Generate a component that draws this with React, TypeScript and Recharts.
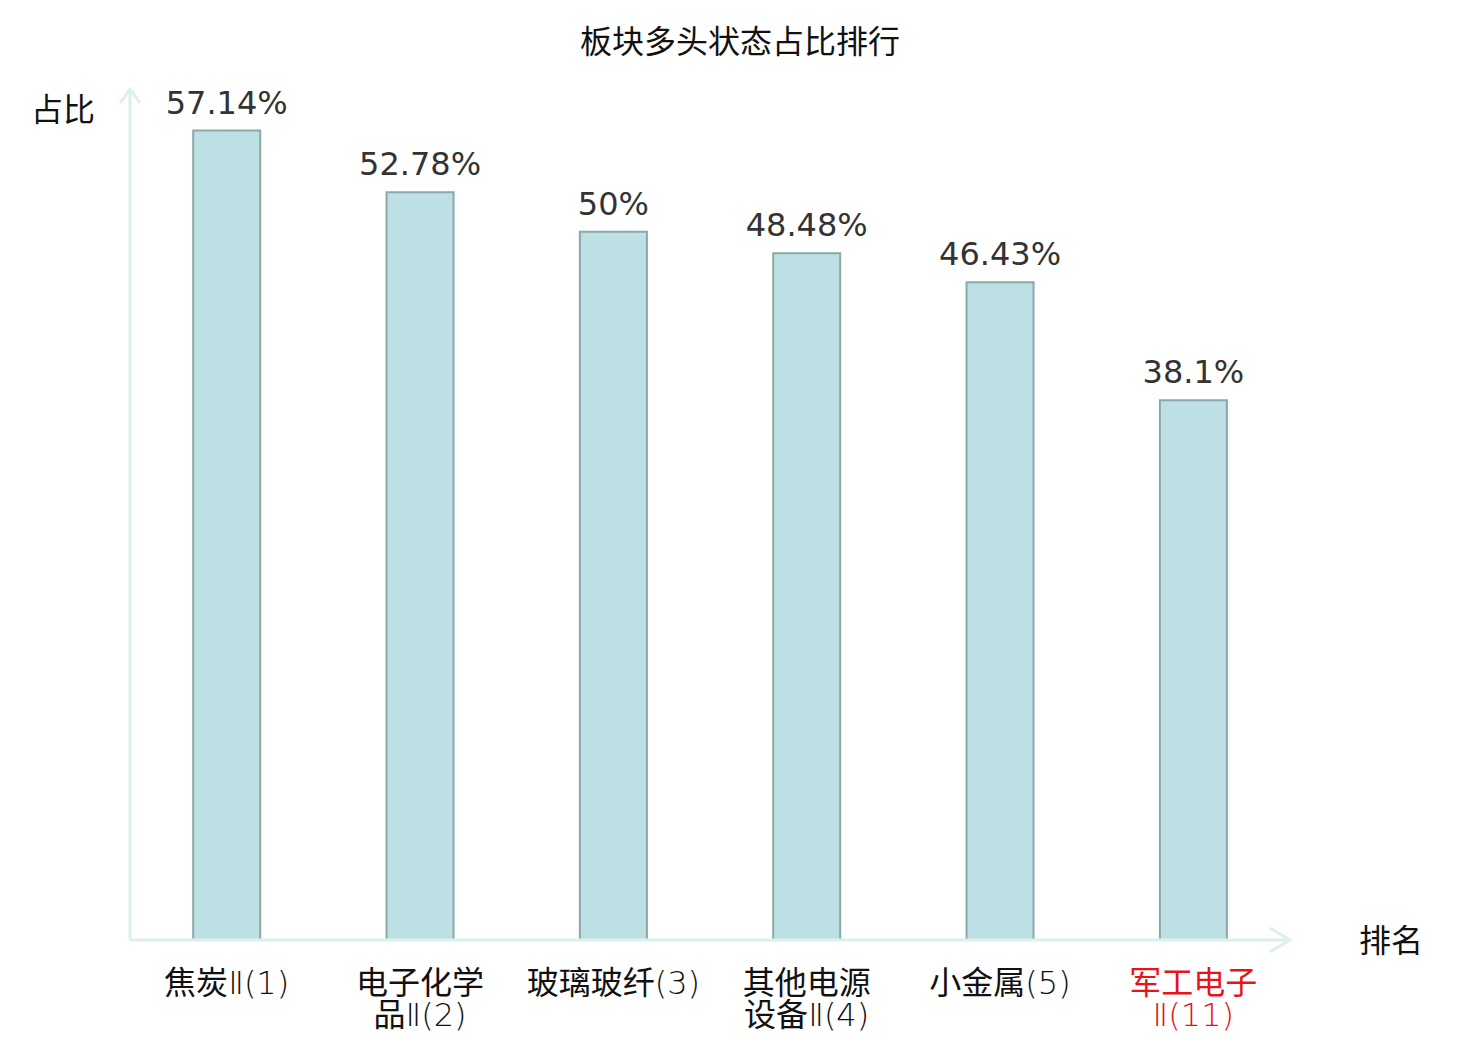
import React from 'react';
import { Bar, BarChart, LabelList, XAxis, YAxis } from 'recharts';

const sectors = ['焦炭Ⅱ(1)', '电子化学\n品Ⅱ(2)', '玻璃玻纤(3)', '其他电源\n设备Ⅱ(4)', '小金属(5)', '军工电子\nⅡ(11)'];
const ratios = [57.14, 52.78, 50, 48.48, 46.43, 38.1];
const highlighted = '军工电子\nⅡ(11)';

const data = sectors.map((name, i) => ({ name, value: ratios[i] }));

const FONT = '"DejaVu Sans", "Noto Sans CJK SC", sans-serif';
const CJK_FONT = '"Noto Sans CJK SC", "DejaVu Sans", sans-serif';
const AXIS_COLOR = '#dcf1ee';

// split a label line into CJK runs and thin latin runs
const runs = (line: string) => line.match(/[\u4e00-\u9fff]+|[^\u4e00-\u9fff]+/g) || [];

const SectorTick = ({ x, y, payload }: any) => {
  const lines = String(payload.value).split('\n');
  const color = payload.value === highlighted ? '#e8141a' : '#111';
  return (
    <g>
      {lines.map((line, i) => (
        <text key={i} x={x} y={y + 46 + i * 32} textAnchor="middle" fontSize={32} fill={color}>
          {runs(line).map((r, j) =>
            /[\u4e00-\u9fff]/.test(r) ? (
              <tspan key={j} fontFamily={CJK_FONT}>{r}</tspan>
            ) : (
              <tspan key={j} fontFamily={FONT} fontWeight={200}>{r}</tspan>
            )
          )}
        </text>
      ))}
    </g>
  );
};

export default function App() {
  return (
    <div style={{ position: 'absolute', left: 0, top: 0, width: 1480, height: 1040, background: '#fff' }}>
      <BarChart
        width={1480}
        height={1040}
        data={data}
        margin={{ top: 90, right: 190, bottom: 60, left: 129 }}
        barCategoryGap="32.7%"
      >
        <XAxis
          dataKey="name"
          height={40}
          interval={0}
          tickLine={false}
          axisLine={{ stroke: AXIS_COLOR, strokeWidth: 3 }}
          tick={<SectorTick />}
        />
        <YAxis
          width={1}
          domain={[0, 60]}
          tick={false}
          tickLine={false}
          axisLine={{ stroke: AXIS_COLOR, strokeWidth: 3 }}
        />
        <Bar dataKey="value" fill="#bce0e3" stroke="#8aa8a8" strokeWidth={2} isAnimationActive={false}>
          <LabelList
            dataKey="value"
            position="top"
            offset={17}
            formatter={(v: any) => `${v}%`}
            style={{ fontSize: 32, fontFamily: FONT, fill: '#333' }}
          />
        </Bar>
      </BarChart>
      <svg
        width={1480}
        height={1040}
        style={{ position: 'absolute', left: 0, top: 0, pointerEvents: 'none' }}
        fontFamily={CJK_FONT}
      >
        <polyline points="120,103 130,89 140,103" fill="none" stroke={AXIS_COLOR} strokeWidth={3} />
        <polyline points="1270,928 1290,940 1270,952" fill="none" stroke={AXIS_COLOR} strokeWidth={3} />
        <text x={740} y={53} textAnchor="middle" fontSize={32} fill="#111">
          板块多头状态占比排行
        </text>
        <text x={63} y={121} textAnchor="middle" fontSize={32} fill="#111">
          占比
        </text>
        <text x={1391} y={952} textAnchor="middle" fontSize={32} fill="#111">
          排名
        </text>
      </svg>
    </div>
  );
}
